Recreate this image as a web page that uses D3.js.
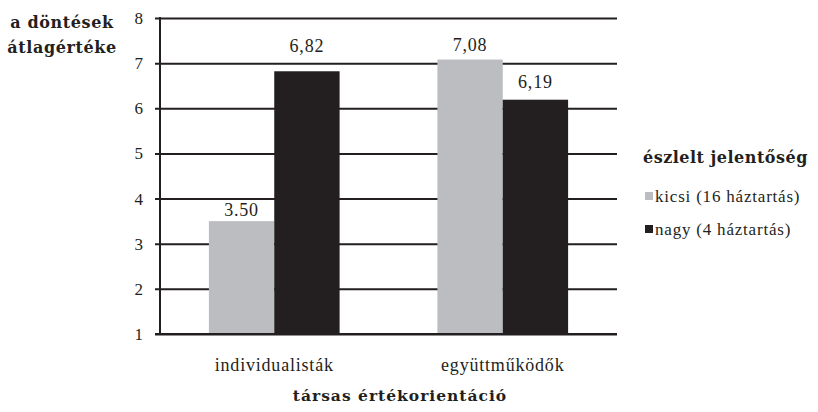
<!DOCTYPE html>
<html><head><meta charset="utf-8">
<script src="https://cdn.jsdelivr.net/npm/d3@7"></script>
<style>
body{margin:0;background:#fff;}
text{font-family:"Liberation Serif","Times New Roman",serif;fill:#231f20;}
.bold{font-family:"DejaVu Serif","Liberation Serif",serif;font-weight:bold;}
</style></head>
<body><svg id="chart" width="818" height="412"></svg>
<script>
const categories = ["individualisták", "együttműködők"];
const seriesNames = ["kicsi (16 háztartás)", "nagy (4 háztartás)"];
const kicsiValues = [3.50, 7.08];
const nagyValues = [6.82, 6.19];
const valueLabels = [["3.50", "7,08"], ["6,82", "6,19"]];
const yTicks = [1, 2, 3, 4, 5, 6, 7, 8];
const yTitle = ["a döntések", "átlagértéke"];
const xTitle = "társas értékorientáció";
const legendTitle = "észlelt jelentőség";

const colors = ["#bcbdc0", "#231f20"];
const labelLift = [[5, 9], [19, 12]];

const svg = d3.select("#chart");
const pLeft = 160, pRight = 617, pTop = 18, pBottom = 334;

const x0 = d3.scaleBand().domain(categories).range([pLeft, pRight]).paddingInner(0.428).paddingOuter(0.214);
const x1 = d3.scaleBand().domain([0, 1]).range([0, x0.bandwidth()]);
const y = d3.scaleLinear().domain([1, 8]).range([pBottom, pTop]);

const series = [kicsiValues, nagyValues];

// gridlines + y axis
const yAxis = d3.axisLeft(y).tickValues(yTicks).tickSize(0).tickPadding(17).tickFormat(d3.format("d"));
const gy = svg.append("g").attr("transform", `translate(${pLeft},0)`).call(yAxis);
gy.select(".domain").remove();
gy.selectAll(".tick line").attr("x1", -5).attr("x2", pRight - pLeft).attr("stroke", "#231f20").attr("stroke-width", 2);
gy.selectAll(".tick text").attr("font-size", 17).attr("fill", "#231f20");

// bars
series.forEach((vals, si) => {
  svg.append("g").selectAll("rect").data(vals).join("rect")
    .attr("x", (d, i) => x0(categories[i]) + x1(si))
    .attr("width", x1.bandwidth())
    .attr("y", d => y(d))
    .attr("height", d => y(1) - y(d))
    .attr("fill", colors[si]);
  svg.append("g").selectAll("text").data(vals).join("text")
    .attr("x", (d, i) => x0(categories[i]) + x1(si) + x1.bandwidth() / 2)
    .attr("y", (d, i) => y(d) - labelLift[si][i])
    .attr("text-anchor", "middle")
    .attr("font-size", 18)
    .attr("letter-spacing", 0.8)
    .text((d, i) => valueLabels[si][i]);
});

// axis lines on top
svg.append("line").attr("x1", pLeft).attr("x2", pLeft).attr("y1", pTop - 1).attr("y2", pBottom + 1)
  .attr("stroke", "#231f20").attr("stroke-width", 2);
svg.append("line").attr("x1", pLeft - 5).attr("x2", pRight).attr("y1", y(1)).attr("y2", y(1))
  .attr("stroke", "#231f20").attr("stroke-width", 2);

// category labels
const xAxis = d3.axisBottom(x0).tickSize(0).tickPadding(0);
const gx = svg.append("g").attr("transform", `translate(0,${pBottom})`).call(xAxis);
gx.select(".domain").remove();
gx.selectAll(".tick text").attr("font-size", 18).attr("letter-spacing", 0.8).attr("dy", 0).attr("y", 37)
  .attr("fill", "#231f20");

// axis titles
const yt = svg.append("text").attr("class", "bold").attr("font-size", 16).attr("letter-spacing", 0.6).attr("text-anchor", "middle");
yt.selectAll("tspan").data(yTitle).join("tspan").attr("x", 62).attr("y", (d, i) => 28 + i * 25).text(d => d);

svg.append("text").attr("class", "bold").attr("font-size", 15.5).attr("letter-spacing", 1)
  .attr("text-anchor", "middle").attr("x", 400).attr("y", 401).text(xTitle);

// legend
const lg = svg.append("g").attr("transform", "translate(643,0)");
lg.append("text").attr("class", "bold").attr("font-size", 16).attr("letter-spacing", 0.5).attr("x", 0).attr("y", 163).text(legendTitle);
const items = lg.selectAll("g.item").data(seriesNames).join("g").attr("class", "item")
  .attr("transform", (d, i) => `translate(0,${202 + i * 33})`);
items.append("rect").attr("x", 2).attr("y", -10).attr("width", 8).attr("height", 8).attr("fill", (d, i) => colors[i]);
items.append("text").attr("x", 12).attr("y", 0).attr("font-size", 17).attr("letter-spacing", 0.8).text(d => d);
</script></body></html>
